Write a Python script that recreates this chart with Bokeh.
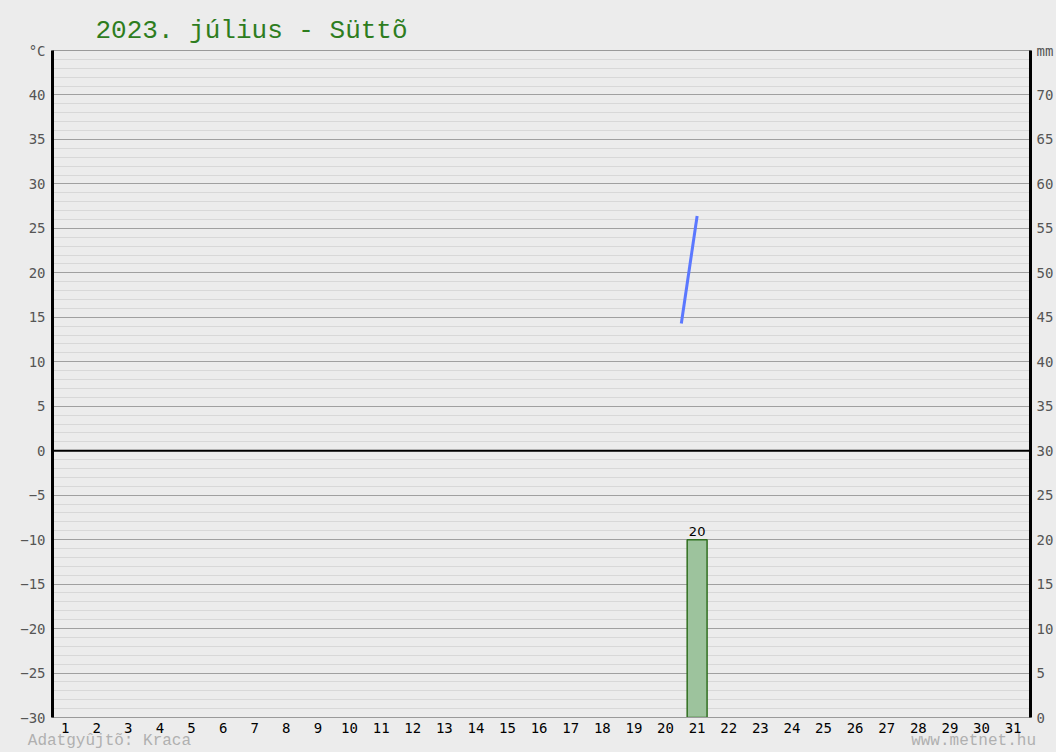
from bokeh.plotting import figure
from bokeh.models import Range1d, LinearAxis, FixedTicker, Span, ColumnDataSource
from bokeh.embed import file_html
from bokeh.resources import INLINE

# ---- data ----
title_text = "2023. július - Süttõ"
days = list(range(1, 32))
day_labels = [str(d) for d in days]
temp_x = [20.5, 21.0]          # temperature trace (day position)
temp_c = [14.3, 26.4]          # °C
precip_days = [21]
precip_mm = [20]
temp_ticks = list(range(-30, 45, 5))
mm_ticks = list(range(0, 75, 5))
footer_left = "Adatgyûjtõ: Kraca"
footer_right = "www.metnet.hu"

BG = "#ececec"
MONO = "DejaVu Sans Mono"
NB = "\u00a0"

p = figure(width=1056, height=752, output_backend="svg", toolbar_location=None,
           x_range=Range1d(0.6, 31.55), y_range=Range1d(-30, 45),
           background_fill_color=BG, border_fill_color=BG,
           min_border_left=52, min_border_right=26, min_border_top=50,
           min_border_bottom=35, outline_line_color="#9a9a9a")

p.extra_y_ranges = {"mm": Range1d(0, 75)}

# title
p.title.text = title_text
p.title.text_font = "Liberation Mono"
p.title.text_font_size = "26px"
p.title.text_font_style = "normal"
p.title.text_color = "#2e7d1e"
p.title.align = "left"
p.title.offset = 43
p.title.standoff = 9

# grid
p.xgrid.visible = False
p.ygrid.ticker = FixedTicker(ticks=list(range(-30, 50, 5)),
                             minor_ticks=list(range(-30, 46, 1)))
p.ygrid.grid_line_color = "#a0a0a0"
p.ygrid.grid_line_width = 1
p.ygrid.minor_grid_line_color = "#d8d8d8"
p.ygrid.minor_grid_line_width = 1


def style_axis(ax, size, color, standoff):
    ax.major_tick_line_color = None
    ax.minor_tick_line_color = None
    ax.major_tick_out = 0
    ax.major_tick_in = 0
    ax.minor_tick_out = 0
    ax.minor_tick_in = 0
    ax.major_label_text_font = MONO
    ax.major_label_text_font_size = size
    ax.major_label_text_color = color
    ax.major_label_standoff = standoff


# left axis (°C)
ya = p.yaxis[0]
ya.ticker = FixedTicker(ticks=temp_ticks + [45])
ya.major_label_overrides = {45: "°C"}
ya.axis_line_color = "black"
ya.axis_line_width = 3
style_axis(ya, "14px", "#555555", 7)

# right axis (mm)
ra = LinearAxis(y_range_name="mm", ticker=FixedTicker(ticks=mm_ticks + [75]))
ra.major_label_overrides = {75: "mm"}
ra.axis_line_color = "black"
ra.axis_line_width = 3
style_axis(ra, "14px", "#555555", 6)
p.add_layout(ra, "right")

# bottom axis (days) with footer line as axis label
xa = p.xaxis[0]
xa.ticker = FixedTicker(ticks=days)
xa.major_label_overrides = {d: s for d, s in zip(days, day_labels)}
xa.axis_line_color = "#9a9a9a"
style_axis(xa, "14px", "black", 5)
xa.axis_label = footer_left + NB * 75 + footer_right + NB * 2
xa.axis_label_text_font = "Liberation Mono"
xa.axis_label_text_font_size = "16px"
xa.axis_label_text_font_style = "normal"
xa.axis_label_text_color = "#b0b0b0"
xa.axis_label_standoff = -4

# zero line
p.add_layout(Span(location=0, dimension="width", line_color="black",
                  line_width=2))

# precipitation bars
src = ColumnDataSource(dict(x=precip_days, top=precip_mm,
                            lab=[str(v) for v in precip_mm]))
p.vbar(x="x", top="top", bottom=0, width=0.63, source=src, y_range_name="mm",
       fill_color="#9dc39d", line_color="#2f6f1f", line_width=1.5)
p.text(x="x", y="top", text="lab", source=src, y_range_name="mm",
       text_align="center", text_baseline="bottom", y_offset=-4,
       text_font={"value": "DejaVu Sans"}, text_font_size="13px",
       text_color="black")

# temperature line
p.line(temp_x, temp_c, line_color="#5b78ff", line_width=3)

html = file_html(p, INLINE)
html = html.replace("<head>", "<head><style>html,body{background:#ececec;}</style>", 1)
open("out.html", "w").write(html)
